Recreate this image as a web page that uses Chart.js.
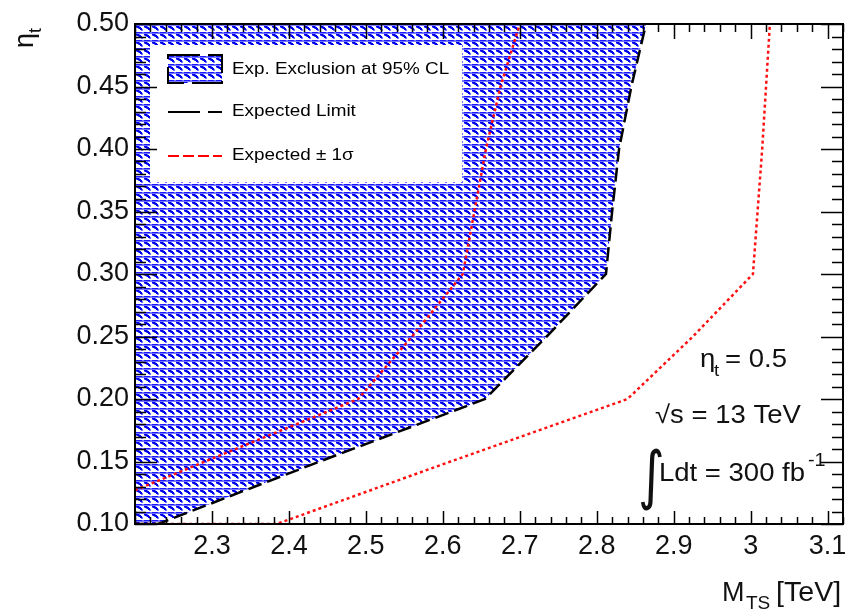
<!DOCTYPE html>
<html>
<head>
<meta charset="utf-8">
<script src="https://cdn.jsdelivr.net/npm/chart.js@4/dist/chart.umd.min.js"></script>
<style>
  html, body { margin: 0; padding: 0; background: #fff; }
  #wrap { width: 854px; height: 614px; }
</style>
</head>
<body>
<div id="wrap"><canvas id="chart" width="854" height="614"></canvas></div>
<script>
// tick labels
const xTicks = [2.3, 2.4, 2.5, 2.6, 2.7, 2.8, 2.9, 3.0, 3.1]
const yTicks = [0.10, 0.15, 0.20, 0.25, 0.30, 0.35, 0.40, 0.45, 0.50]

// expected limit (edge of the excluded region)
const limitMass = [2.2, 2.23, 2.44, 2.655, 2.735, 2.812, 2.820, 2.829, 2.845, 2.864]
const limitEta = [0.10, 0.10, 0.15, 0.20, 0.25, 0.30, 0.35, 0.40, 0.45, 0.50]

// expected -1 sigma
const minusMass = [2.2, 2.291, 2.49, 2.56, 2.626, 2.641, 2.656, 2.675, 2.700]
const minusEta = [0.127, 0.15, 0.20, 0.25, 0.30, 0.35, 0.40, 0.45, 0.50]

// expected +1 sigma
const plusMass = [2.2, 2.384, 2.61, 2.84, 2.925, 3.003, 3.009, 3.015, 3.020, 3.025]
const plusEta = [0.10, 0.10, 0.15, 0.20, 0.25, 0.30, 0.35, 0.40, 0.45, 0.50]

const FONT = '"Liberation Sans", Arial, sans-serif'

const canvas = document.getElementById('chart')
const ctx = canvas.getContext('2d')

// ROOT-like blue hatch, 8px cell
function hatch() {
  const c = document.createElement('canvas')
  c.width = 8
  c.height = 8
  const g = c.getContext('2d')
  g.fillStyle = '#ffffff'
  g.fillRect(0, 0, 8, 8)
  g.fillStyle = '#1a1aff'
  g.fillRect(0, 0, 6, 1)
  g.fillStyle = '#7878ff'
  g.fillRect(6, 0, 2, 1)
  g.fillRect(0, 1, 8, 1)
  g.fillStyle = '#0000f0'
  g.fillRect(0, 2, 3, 1)
  g.fillRect(1, 3, 4, 1)
  g.fillRect(3, 4, 3, 1)
  g.fillRect(4, 5, 2, 1)
  g.fillStyle = '#7070ff'
  g.fillRect(3, 2, 1, 1)
  g.fillRect(0, 3, 1, 1)
  g.fillRect(2, 4, 1, 1)
  g.fillRect(6, 5, 1, 1)
  g.fillRect(5, 6, 2, 1)
  return ctx.createPattern(c, 'repeat')
}
const pattern = hatch()

const points = (xs, ys) => xs.map((x, i) => ({ x: x, y: ys[i] }))

// frame, inner ticks, titles, legend and text
const decorations = {
  id: 'decorations',
  afterDatasetsDraw(chart) {
    const c = chart.ctx

    // legend
    c.save()
    c.fillStyle = '#fff'
    c.fillRect(150, 45, 312, 137)
    c.fillStyle = pattern
    c.fillRect(168, 55, 54, 28)
    c.strokeStyle = '#000'
    c.lineWidth = 2
    c.setLineDash([32, 8])
    c.strokeRect(168, 55, 54, 28)
    c.beginPath()
    c.moveTo(168, 112)
    c.lineTo(222, 112)
    c.stroke()
    c.strokeStyle = '#ff0000'
    c.setLineDash([11, 4])
    c.beginPath()
    c.moveTo(168, 156)
    c.lineTo(222, 156)
    c.stroke()
    c.setLineDash([])
    c.fillStyle = '#000'
    c.font = '16px ' + FONT
    c.textBaseline = 'alphabetic'
    const rows = [['Exp. Exclusion at 95% CL', 74], ['Expected Limit', 116], ['Expected \u00b1 1\u03c3', 160]]
    rows.forEach(([t, by]) => {
      c.save()
      c.translate(232, by)
      c.scale(1.18, 1)
      c.fillText(t, 0, 0)
      c.restore()
    })
    c.restore()
  },
  afterDraw(chart) {
    const c = chart.ctx
    const x = chart.scales.x
    const y = chart.scales.y
    const a = chart.chartArea
    c.save()
    c.strokeStyle = '#000'
    c.lineWidth = 2
    c.strokeRect(a.left, a.top, a.right - a.left, a.bottom - a.top)
    c.lineWidth = 1.5
    c.beginPath()
    for (let i = 110; i <= 156; i++) {
      const px = Math.round(x.getPixelForValue(i / 50)) + 0.5
      const major = i % 5 === 0
      const lb = major ? 13 : 7
      const lt = major ? 15 : 8
      c.moveTo(px, a.bottom)
      c.lineTo(px, a.bottom - lb)
      c.moveTo(px, a.top)
      c.lineTo(px, a.top + lt)
    }
    for (let i = 10; i <= 50; i++) {
      const py = Math.round(y.getPixelForValue(i / 100)) + 0.5
      const major = i % 5 === 0
      const l = major ? 22 : 11
      c.moveTo(a.left, py)
      c.lineTo(a.left + l, py)
      c.moveTo(a.right, py)
      c.lineTo(a.right - l, py)
    }
    c.stroke()

    c.fillStyle = '#111'
    c.textBaseline = 'alphabetic'

    // x title
    c.font = '27px ' + FONT
    c.fillText('M', 722, 601)
    c.font = '19px ' + FONT
    c.fillText('TS', 746, 609)
    c.save()
    c.translate(776, 601)
    c.scale(1.06, 1)
    c.font = '27px ' + FONT
    c.fillText('[TeV]', 0, 0)
    c.restore()

    // y title
    c.save()
    c.translate(33, 48)
    c.rotate(-Math.PI / 2)
    c.font = '27px ' + FONT
    c.fillText('\u03b7', 0, 0)
    c.font = '18px ' + FONT
    c.fillText('t', 15, 8)
    c.restore()

    // annotations
    const stretched = (t, px, py, size) => {
      c.save()
      c.translate(px, py)
      c.scale(1.1, 1)
      c.font = size + 'px ' + FONT
      c.fillText(t, 0, 0)
      c.restore()
    }
    stretched('\u03b7', 700, 367, 25)
    stretched('t', 714, 376, 17)
    stretched('= 0.5', 725, 367, 25)
    stretched('\u221as = 13 TeV', 655, 423, 25)
    c.save()
    c.translate(638, 497)
    c.scale(0.8, 1)
    c.font = '64px "DejaVu Sans", ' + FONT
    c.fillText('\u222b', 0, 0)
    c.restore()
    stretched('Ldt = 300 fb', 659, 481, 25)
    stretched('-1', 808, 466, 18)
    c.restore()
  }
}

new Chart(ctx, {
  type: 'scatter',
  data: {
    datasets: [
      {
        label: 'Exp. Exclusion at 95% CL',
        data: points(limitMass, limitEta),
        showLine: true,
        fill: 'end',
        backgroundColor: pattern,
        borderColor: '#000',
        borderWidth: 2.5,
        borderDash: [14, 6],
        pointRadius: 0,
        tension: 0,
        order: 3
      },
      {
        label: 'Expected -1sigma',
        data: points(minusMass, minusEta),
        showLine: true,
        fill: false,
        borderColor: '#ff1010',
        borderWidth: 2.5,
        borderDash: [3, 3],
        pointRadius: 0,
        order: 1
      },
      {
        label: 'Expected +1sigma',
        data: points(plusMass, plusEta),
        showLine: true,
        fill: false,
        borderColor: '#ff1010',
        borderWidth: 2.5,
        borderDash: [3, 3],
        pointRadius: 0,
        order: 2
      }
    ]
  },
  options: {
    responsive: false,
    animation: false,
    events: [],
    layout: { padding: { top: 24, right: 11, left: 0, bottom: 0 } },
    plugins: {
      legend: { display: false },
      tooltip: { enabled: false }
    },
    scales: {
      x: {
        type: 'linear',
        min: 2.2,
        max: 3.12,
        grid: { display: false, drawTicks: false },
        border: { display: false },
        afterBuildTicks: (s) => { s.ticks = xTicks.map((v) => ({ value: v })) },
        afterFit: (s) => { s.height = 90 },
        ticks: {
          padding: 6,
          color: '#111',
          font: { family: FONT, size: 27 },
          maxRotation: 0,
          callback: (v) => String(+v.toFixed(1))
        }
      },
      y: {
        type: 'linear',
        min: 0.10,
        max: 0.50,
        grid: { display: false, drawTicks: false },
        border: { display: false },
        afterBuildTicks: (s) => { s.ticks = yTicks.map((v) => ({ value: v })) },
        afterFit: (s) => { s.width = 135 },
        ticks: {
          padding: 6,
          color: '#111',
          font: { family: FONT, size: 27 },
          callback: (v) => v.toFixed(2)
        }
      }
    }
  },
  plugins: [decorations]
})
</script>
</body>
</html>
